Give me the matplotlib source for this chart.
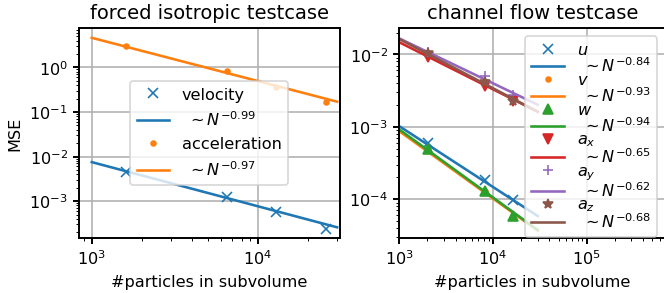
import numpy as np
import matplotlib
matplotlib.use("Agg")
import matplotlib.pyplot as plt

# ---- data: forced isotropic testcase ----
iso_n = [1600, 6500, 12800, 25600]
iso_vel = [4.6e-3, 1.23e-3, 5.8e-4, 2.4e-4]
iso_acc = [2.96, 0.81, 0.36, 0.163]
iso_fit_pref = [7.5e-3, 4.6]
iso_fit_exp = [-0.99, -0.97]
iso_names = ["velocity", "acceleration"]
iso_markers = ["x", "."]

# ---- data: channel flow testcase ----
ch_n = [2048, 8192, 16384]
ch_u = [5.9e-4, 1.82e-4, 9.8e-5]
ch_v = [4.8e-4, 1.28e-4, 5.8e-5]
ch_w = [4.9e-4, 1.3e-4, 5.9e-5]
ch_ax = [9.1e-3, 3.65e-3, 2.29e-3]
ch_ay = [1.07e-2, 4.97e-3, 2.75e-3]
ch_az = [1.03e-2, 4.2e-3, 2.3e-3]
ch_fit_pref = [1.02e-3, 8.7e-4, 9.2e-4, 1.47e-2, 1.66e-2, 1.63e-2]
ch_fit_exp = [-0.84, -0.93, -0.94, -0.65, -0.62, -0.68]
ch_names = ["$u$", "$v$", "$w$", "$a_x$", "$a_y$", "$a_z$"]
ch_markers = ["x", ".", "^", "v", "+", "*"]

fit_range = [1000, 30000]

plt.rcParams["axes.linewidth"] = 1.2
plt.rcParams["xtick.major.width"] = 1.2
plt.rcParams["ytick.major.width"] = 1.2
plt.rcParams["grid.linewidth"] = 1.0

dpi = 116.6
fig = plt.figure(figsize=(664.4 / dpi, 293.4 / dpi), dpi=dpi)
ax1 = fig.add_axes([79 / 664, (293 - 237.7) / 293, 260.3 / 664, 209 / 293])
ax2 = fig.add_axes([399 / 664, (293 - 237.7) / 293, 266 / 664, 209 / 293])

colors = plt.rcParams["axes.prop_cycle"].by_key()["color"]
xf = np.array(fit_range, dtype=float)

# left panel
iso_data = [iso_vel, iso_acc]
for i in range(2):
    ax1.plot(iso_n, iso_data[i], iso_markers[i], color=colors[i], label=iso_names[i])
    ax1.plot(xf, iso_fit_pref[i] * (xf / 1000.0) ** iso_fit_exp[i], "-", color=colors[i],
             lw=1.6, label=r" $\sim N^{%.2f}$" % iso_fit_exp[i])
ax1.set_xscale("log")
ax1.set_yscale("log")
ax1.set_xlim(838, 31000)
ax1.set_ylim(1.52e-4, 7.5)
ax1.grid(True, which="major")
ax1.set_title("forced isotropic testcase", fontsize=12)
ax1.set_xlabel("#particles in subvolume")
ax1.set_ylabel("MSE")
ax1.legend(loc="center")

# right panel
ch_data = [ch_u, ch_v, ch_w, ch_ax, ch_ay, ch_az]
for i in range(6):
    ax2.plot(ch_n, ch_data[i], ch_markers[i], color=colors[i], label=ch_names[i])
    ax2.plot(xf, ch_fit_pref[i] * (xf / 1000.0) ** ch_fit_exp[i], "-", color=colors[i],
             lw=1.6, label=r" $\sim N^{%.2f}$" % ch_fit_exp[i])
ax2.set_xscale("log")
ax2.set_yscale("log")
ax2.set_xlim(1000, 6.9e5)
ax2.set_ylim(2.95e-5, 2.286e-2)
ax2.grid(True, which="major")
ax2.set_title("channel flow testcase", fontsize=12)
ax2.set_xlabel("#particles in subvolume")
ax2.legend(loc="upper right", labelspacing=-0.12)

fig.savefig("out.png", dpi=dpi)
